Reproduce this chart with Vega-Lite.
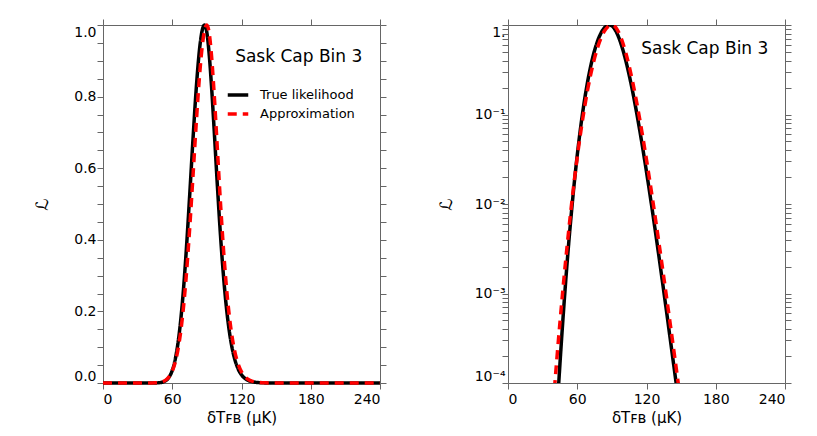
{
  "$schema": "https://vega.github.io/schema/vega-lite/v6.json",
  "padding": {"left": 33, "top": 17, "right": 5, "bottom": 5},
  "background": "white",
  "spacing": 48,
  "datasets": {
    "curves": [
      {"x": 0, "L": 0, "s": "True likelihood"},
      {"x": 30, "L": 2.2e-8, "s": "True likelihood"},
      {"x": 36, "L": 1.28e-6, "s": "True likelihood"},
      {"x": 39, "L": 7.5e-6, "s": "True likelihood"},
      {"x": 42, "L": 3.76e-5, "s": "True likelihood"},
      {"x": 45, "L": 1.63e-4, "s": "True likelihood"},
      {"x": 48, "L": 6.1e-4, "s": "True likelihood"},
      {"x": 51, "L": 2.03e-3, "s": "True likelihood"},
      {"x": 54, "L": 5.89e-3, "s": "True likelihood"},
      {"x": 57, "L": 0.0152, "s": "True likelihood"},
      {"x": 60, "L": 0.0351, "s": "True likelihood"},
      {"x": 63, "L": 0.0729, "s": "True likelihood"},
      {"x": 66, "L": 0.1368, "s": "True likelihood"},
      {"x": 69, "L": 0.2332, "s": "True likelihood"},
      {"x": 72, "L": 0.363, "s": "True likelihood"},
      {"x": 75, "L": 0.5187, "s": "True likelihood"},
      {"x": 78, "L": 0.6829, "s": "True likelihood"},
      {"x": 81, "L": 0.8323, "s": "True likelihood"},
      {"x": 84, "L": 0.9429, "s": "True likelihood"},
      {"x": 86, "L": 0.9856, "s": "True likelihood"},
      {"x": 88, "L": 1.0, "s": "True likelihood"},
      {"x": 90, "L": 0.9783, "s": "True likelihood"},
      {"x": 92, "L": 0.9182, "s": "True likelihood"},
      {"x": 94, "L": 0.8298, "s": "True likelihood"},
      {"x": 96, "L": 0.7243, "s": "True likelihood"},
      {"x": 99, "L": 0.5571, "s": "True likelihood"},
      {"x": 102, "L": 0.4027, "s": "True likelihood"},
      {"x": 105, "L": 0.2758, "s": "True likelihood"},
      {"x": 108, "L": 0.18, "s": "True likelihood"},
      {"x": 111, "L": 0.1128, "s": "True likelihood"},
      {"x": 114, "L": 0.0682, "s": "True likelihood"},
      {"x": 117, "L": 0.04, "s": "True likelihood"},
      {"x": 120, "L": 0.02284, "s": "True likelihood"},
      {"x": 123, "L": 0.01275, "s": "True likelihood"},
      {"x": 126, "L": 6.99e-3, "s": "True likelihood"},
      {"x": 129, "L": 3.76e-3, "s": "True likelihood"},
      {"x": 132, "L": 2.0e-3, "s": "True likelihood"},
      {"x": 135, "L": 1.05e-3, "s": "True likelihood"},
      {"x": 138, "L": 5.47e-4, "s": "True likelihood"},
      {"x": 141, "L": 2.82e-4, "s": "True likelihood"},
      {"x": 144, "L": 1.45e-4, "s": "True likelihood"},
      {"x": 147, "L": 7.43e-5, "s": "True likelihood"},
      {"x": 150, "L": 3.8e-5, "s": "True likelihood"},
      {"x": 153, "L": 1.93e-5, "s": "True likelihood"},
      {"x": 156, "L": 9.8e-6, "s": "True likelihood"},
      {"x": 160, "L": 4.0e-6, "s": "True likelihood"},
      {"x": 170, "L": 4.3e-7, "s": "True likelihood"},
      {"x": 240, "L": 0, "s": "True likelihood"},
      {"x": 0, "L": 0, "s": "Approximation"},
      {"x": 30, "L": 1.23e-6, "s": "Approximation"},
      {"x": 36, "L": 1.63e-5, "s": "Approximation"},
      {"x": 39, "L": 5.35e-5, "s": "Approximation"},
      {"x": 42, "L": 1.65e-4, "s": "Approximation"},
      {"x": 45, "L": 4.73e-4, "s": "Approximation"},
      {"x": 48, "L": 1.27e-3, "s": "Approximation"},
      {"x": 51, "L": 3.18e-3, "s": "Approximation"},
      {"x": 54, "L": 7.45e-3, "s": "Approximation"},
      {"x": 57, "L": 0.0163, "s": "Approximation"},
      {"x": 60, "L": 0.0333, "s": "Approximation"},
      {"x": 63, "L": 0.0635, "s": "Approximation"},
      {"x": 66, "L": 0.1133, "s": "Approximation"},
      {"x": 69, "L": 0.1888, "s": "Approximation"},
      {"x": 72, "L": 0.2938, "s": "Approximation"},
      {"x": 75, "L": 0.4271, "s": "Approximation"},
      {"x": 78, "L": 0.5802, "s": "Approximation"},
      {"x": 81, "L": 0.7362, "s": "Approximation"},
      {"x": 84, "L": 0.8728, "s": "Approximation"},
      {"x": 86, "L": 0.9413, "s": "Approximation"},
      {"x": 88, "L": 0.985, "s": "Approximation"},
      {"x": 90, "L": 1.0, "s": "Approximation"},
      {"x": 92, "L": 0.9774, "s": "Approximation"},
      {"x": 94, "L": 0.915, "s": "Approximation"},
      {"x": 96, "L": 0.8238, "s": "Approximation"},
      {"x": 99, "L": 0.659, "s": "Approximation"},
      {"x": 102, "L": 0.4922, "s": "Approximation"},
      {"x": 105, "L": 0.3461, "s": "Approximation"},
      {"x": 108, "L": 0.231, "s": "Approximation"},
      {"x": 111, "L": 0.1475, "s": "Approximation"},
      {"x": 114, "L": 0.0906, "s": "Approximation"},
      {"x": 117, "L": 0.0539, "s": "Approximation"},
      {"x": 120, "L": 0.0312, "s": "Approximation"},
      {"x": 123, "L": 0.0176, "s": "Approximation"},
      {"x": 126, "L": 9.74e-3, "s": "Approximation"},
      {"x": 129, "L": 5.30e-3, "s": "Approximation"},
      {"x": 132, "L": 2.85e-3, "s": "Approximation"},
      {"x": 135, "L": 1.51e-3, "s": "Approximation"},
      {"x": 138, "L": 7.94e-4, "s": "Approximation"},
      {"x": 141, "L": 4.15e-4, "s": "Approximation"},
      {"x": 144, "L": 2.15e-4, "s": "Approximation"},
      {"x": 147, "L": 1.11e-4, "s": "Approximation"},
      {"x": 150, "L": 5.76e-5, "s": "Approximation"},
      {"x": 153, "L": 2.98e-5, "s": "Approximation"},
      {"x": 156, "L": 1.54e-5, "s": "Approximation"},
      {"x": 160, "L": 6.4e-6, "s": "Approximation"},
      {"x": 170, "L": 7.2e-7, "s": "Approximation"},
      {"x": 240, "L": 0, "s": "Approximation"}
    ]
  },
  "resolve": {"scale": {"color": "independent", "strokeDash": "independent"}},
  "hconcat": [
    {
      "width": 277,
      "height": 358,
      "resolve": {"axis": {"x": "independent", "y": "independent"}},
      "layer": [
        {
          "data": {"name": "curves"},
          "mark": {"type": "line", "strokeWidth": 3.5, "interpolate": "monotone"},
          "encoding": {
            "x": {
              "field": "x", "type": "quantitative",
              "scale": {"domain": [0, 240], "nice": false, "zero": false},
              "axis": {
                "orient": "bottom", "values": [0, 60, 120, 180, 240], "format": "d",
                "title": "δTꜰʙ (μK)", "labelPadding": 3, "titlePadding": 4, "labelOverlap": false,
                "encode": {"ticks": {"update": {"y2": {"value": -6}}}}
              }
            },
            "y": {
              "field": "L", "type": "quantitative",
              "scale": {"domain": [0, 1], "nice": false},
              "axis": {
                "orient": "left",
                "values": [0, 0.05, 0.1, 0.15, 0.2, 0.25, 0.3, 0.35, 0.4, 0.45, 0.5, 0.55, 0.6, 0.65, 0.7, 0.75, 0.8, 0.85, 0.9, 0.95, 1],
                "labelExpr": "abs(datum.value*5-round(datum.value*5))<0.001 ? format(datum.value,'.1f') : ''",
                "labelOverlap": false, "labelFlush": true, "labelPadding": 1,
                "title": "ℒ", "titleFontSize": 17, "titlePadding": 22,
                "encode": {"ticks": {"update": {"x2": {"signal": "abs(datum.value*5-round(datum.value*5))<0.001 ? 6 : 3"}}}}
              }
            },
            "color": {
              "field": "s", "type": "nominal",
              "scale": {"domain": ["True likelihood", "Approximation"], "range": ["black", "red"]},
              "legend": {
                "orient": "none", "legendX": 123, "legendY": 58, "title": null,
                "symbolType": "stroke", "symbolSize": 420, "symbolStrokeWidth": 3.5,
                "labelFontSize": 13, "labelFont": "DejaVu Sans", "labelOffset": 10, "rowPadding": -2
              }
            },
            "strokeDash": {
              "field": "s", "type": "nominal",
              "scale": {"domain": ["True likelihood", "Approximation"], "range": [[1, 0], [9, 6]]},
              "legend": {
                "orient": "none", "legendX": 123, "legendY": 58, "title": null,
                "symbolType": "stroke", "symbolSize": 420, "symbolStrokeWidth": 3.5,
                "labelFontSize": 13, "labelFont": "DejaVu Sans", "labelOffset": 10, "rowPadding": -2
              }
            }
          }
        },
        {
          "data": {"values": [{}]},
          "mark": {"type": "text", "align": "left", "baseline": "middle", "fontSize": 17, "font": "DejaVu Sans", "color": "black"},
          "encoding": {
            "x": {
              "datum": 114.5, "type": "quantitative",
              "axis": {
                "orient": "top", "values": [0, 60, 120, 180, 240], "labels": false, "title": null,
                "encode": {"ticks": {"update": {"y2": {"value": 6}}}}
              }
            },
            "y": {
              "datum": 0.91, "type": "quantitative",
              "axis": {
                "orient": "right",
                "values": [0, 0.05, 0.1, 0.15, 0.2, 0.25, 0.3, 0.35, 0.4, 0.45, 0.5, 0.55, 0.6, 0.65, 0.7, 0.75, 0.8, 0.85, 0.9, 0.95, 1],
                "labels": false, "title": null,
                "encode": {"ticks": {"update": {"x2": {"signal": "abs(datum.value*5-round(datum.value*5))<0.001 ? -6 : -3"}}}}
              }
            },
            "text": {"value": "Sask Cap Bin 3"}
          }
        }
      ]
    },
    {
      "width": 277,
      "height": 358,
      "resolve": {"axis": {"x": "independent", "y": "independent"}},
      "layer": [
        {
          "data": {"name": "curves"},
          "transform": [{"filter": "datum.L >= 1e-6"}],
          "mark": {"type": "line", "strokeWidth": 3.5, "interpolate": "monotone", "clip": true},
          "encoding": {
            "x": {
              "field": "x", "type": "quantitative",
              "scale": {"domain": [0, 240], "nice": false, "zero": false},
              "axis": {
                "orient": "bottom", "values": [0, 60, 120, 180, 240], "format": "d",
                "title": "δTꜰʙ (μK)", "labelPadding": 3, "titlePadding": 4, "labelOverlap": false,
                "encode": {"ticks": {"update": {"y2": {"value": -6}}}}
              }
            },
            "y": {
              "field": "L", "type": "quantitative",
              "scale": {"type": "log", "domain": [0.0001, 1], "nice": false},
              "axis": {
                "orient": "left",
                "values": [0.0001, 0.0002, 0.0003, 0.0004, 0.0005, 0.0006, 0.0007, 0.0008, 0.0009, 0.001, 0.002, 0.003, 0.004, 0.005, 0.006, 0.007, 0.008, 0.009, 0.01, 0.02, 0.03, 0.04, 0.05, 0.06, 0.07, 0.08, 0.09, 0.1, 0.2, 0.3, 0.4, 0.5, 0.6, 0.7, 0.8, 0.9, 1],
                "labelExpr": "abs(log(datum.value)/LN10-round(log(datum.value)/LN10))>0.001 ? '' : datum.value > 0.5 ? '1.' : datum.value > 0.05 ? '10⁻¹' : datum.value > 0.005 ? '10⁻²' : datum.value > 0.0005 ? '10⁻³' : '10⁻⁴'",
                "labelOverlap": false, "labelFlush": true, "labelPadding": -3,
                "title": "ℒ", "titleFontSize": 17, "titlePadding": 19,
                "encode": {"ticks": {"update": {"x2": {"signal": "abs(log(datum.value)/LN10-round(log(datum.value)/LN10))<0.001 ? 6 : 3"}}}}
              }
            },
            "color": {
              "field": "s", "type": "nominal",
              "scale": {"domain": ["True likelihood", "Approximation"], "range": ["black", "red"]},
              "legend": null
            },
            "strokeDash": {
              "field": "s", "type": "nominal",
              "scale": {"domain": ["True likelihood", "Approximation"], "range": [[1, 0], [9, 6]]},
              "legend": null
            }
          }
        },
        {
          "data": {"values": [{}]},
          "mark": {"type": "text", "align": "left", "baseline": "middle", "fontSize": 17, "font": "DejaVu Sans", "color": "black"},
          "encoding": {
            "x": {
              "datum": 115.4, "type": "quantitative",
              "axis": {
                "orient": "top", "values": [0, 60, 120, 180, 240], "labels": false, "title": null,
                "encode": {"ticks": {"update": {"y2": {"value": 6}}}}
              }
            },
            "y": {
              "datum": 0.543, "type": "quantitative",
              "axis": {
                "orient": "right",
                "values": [0.0001, 0.0002, 0.0003, 0.0004, 0.0005, 0.0006, 0.0007, 0.0008, 0.0009, 0.001, 0.002, 0.003, 0.004, 0.005, 0.006, 0.007, 0.008, 0.009, 0.01, 0.02, 0.03, 0.04, 0.05, 0.06, 0.07, 0.08, 0.09, 0.1, 0.2, 0.3, 0.4, 0.5, 0.6, 0.7, 0.8, 0.9, 1],
                "labels": false, "title": null,
                "encode": {"ticks": {"update": {"x2": {"signal": "abs(log(datum.value)/LN10-round(log(datum.value)/LN10))<0.001 ? -6 : -3"}}}}
              }
            },
            "text": {"value": "Sask Cap Bin 3"}
          }
        }
      ]
    }
  ],
  "config": {
    "font": "DejaVu Sans",
    "view": {"stroke": "#666", "strokeWidth": 1},
    "axis": {
      "domain": false, "grid": false,
      "labelFont": "DejaVu Sans", "labelFontSize": 14, "labelColor": "black",
      "tickColor": "#666", "tickWidth": 1, "tickSize": 6,
      "titleFont": "DejaVu Sans", "titleFontWeight": "normal", "titleFontSize": 15, "titleColor": "black"
    }
  }
}
